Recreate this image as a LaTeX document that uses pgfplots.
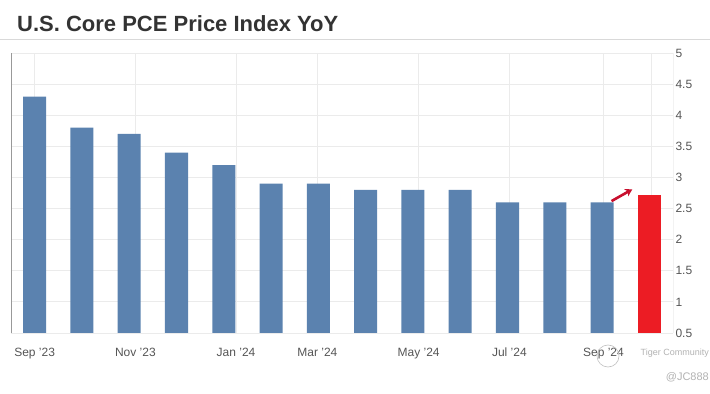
\documentclass[border=0pt]{standalone}
\usepackage{pgfplots}
\pgfplotsset{compat=1.18}
\usepackage{fontspec}
\setmainfont{Liberation Sans}
\usetikzlibrary{arrows.meta}
\definecolor{barblue}{HTML}{5B82AF}
\definecolor{barred}{HTML}{EC1C24}
\definecolor{arrowred}{HTML}{C8102E}
\definecolor{titlegray}{HTML}{333333}
\definecolor{ticklab}{HTML}{555555}
\definecolor{gridc}{HTML}{EBEBEB}
\begin{document}
\begin{tikzpicture}
\path[use as bounding box] (0,0) rectangle (710bp,394bp);
\node[anchor=base west, font=\fontsize{22bp}{26bp}\selectfont\bfseries, text=titlegray, inner sep=0pt] at (17bp,362bp) {U.S. Core PCE Price Index YoY};
\draw[color=black!15, line width=1bp] (0,354bp) -- (710bp,354bp);
\begin{axis}[
  at={(11bp,61bp)}, anchor=south west,
  scale only axis, width=662bp, height=280bp,
  xmin=-0.5, xmax=13.5, ymin=0.5, ymax=5,
  axis line style={draw=none},
  ytick={0.5,1,...,5},
  yticklabels={0.5,1,1.5,2,2.5,3,3.5,4,4.5,5},
  yticklabel pos=right,
  yticklabel style={anchor=west, xshift=-1bp, font=\fontsize{12bp}{14bp}\selectfont, text=ticklab},
  xtick={0,2.13,4.26,5.98,8.12,10.04,12.03,13.04},
  xticklabels={Sep '23,Nov '23,Jan '24,Mar '24,May '24,Jul '24,Sep '24,},
  xticklabel style={yshift=-11bp, font=\fontsize{12bp}{14bp}\selectfont, text=ticklab, text height=9bp, text depth=3bp},
  major tick length=0pt,
  xmajorgrids, ymajorgrids,
  grid style={color=gridc, line width=0.8bp},
  /pgf/number format/assume math mode=true,
  clip=true,
]
\addplot[ybar, bar width=0.487, bar shift=0pt, fill=barblue, draw=none] coordinates {
 (0,4.3) (1,3.8) (2,3.7) (3,3.4) (4,3.2) (5,2.9) (6,2.9) (7,2.8) (8,2.8) (9,2.8) (10,2.6) (11,2.6) (12,2.6)
};
\addplot[ybar, bar width=0.487, bar shift=0pt, fill=barred, draw=none] coordinates {(13,2.72)};
\draw[color=black!40, line width=0.8bp] (rel axis cs:0,0) -- (rel axis cs:0,1);
\draw[color=black!25, line width=1bp] (rel axis cs:0,0) -- (rel axis cs:1,0);
\draw[color=black!40, line width=0.8bp] (rel axis cs:1,0) -- (rel axis cs:1,1);
\draw[arrowred, line width=2.6bp, -{Stealth[length=7bp,width=8bp]}] (axis cs:12.2,2.62) -- (axis cs:12.64,2.81);
\end{axis}
\node[anchor=base east, font=\fontsize{9bp}{11bp}\selectfont, text=black!30, inner sep=0pt] at (709bp,39bp) {Tiger Community};
\node[anchor=base east, font=\fontsize{11bp}{13bp}\selectfont, text=black!30, inner sep=0pt] at (709bp,14bp) {@JC888};
\draw[black!25, line width=0.6bp] (608bp,38bp) circle (11bp);
\end{tikzpicture}
\end{document}
